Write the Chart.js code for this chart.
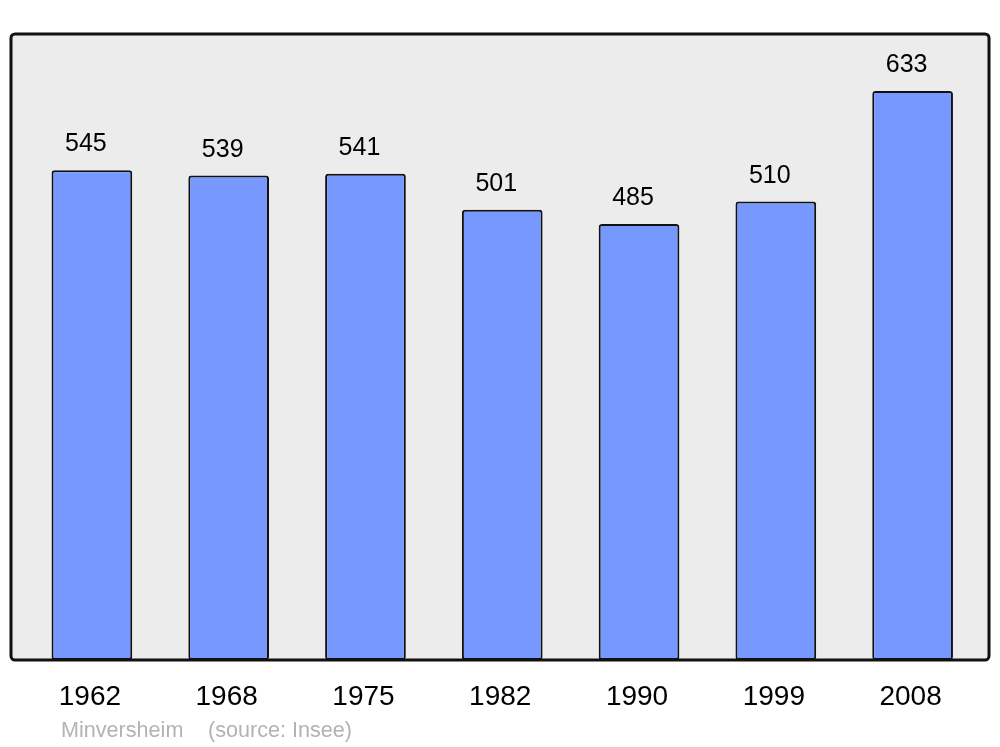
<!DOCTYPE html>
<html>
<head>
<meta charset="utf-8">
<script src="https://cdn.jsdelivr.net/npm/chart.js@4"></script>
<style>
  html, body { margin: 0; padding: 0; background: #fff; }
  canvas { display: block; }
</style>
</head>
<body>
<canvas id="chart" width="1000" height="747"></canvas>
<script>
const years = ['1962', '1968', '1975', '1982', '1990', '1999', '2008'];
const population = [545, 539, 541, 501, 485, 510, 633];
const footerName = 'Minversheim';
const footerSource = '(source: Insee)';

// panel behind the bars, a bit wider than the chart area
const panelPlugin = {
  id: 'panel',
  beforeDraw(chart) {
    const { ctx, chartArea } = chart;
    const x0 = chartArea.left - 12.5, x1 = chartArea.right + 8;
    const y0 = chartArea.top, y1 = chartArea.bottom;
    ctx.save();
    ctx.beginPath();
    ctx.roundRect(x0, y0, x1 - x0, y1 - y0, 4);
    ctx.fillStyle = '#ececec';
    ctx.fill();
    ctx.restore();
  },
  afterDatasetsDraw(chart) {
    const { ctx, chartArea } = chart;
    const x0 = chartArea.left - 12.5, x1 = chartArea.right + 8;
    const y0 = chartArea.top, y1 = chartArea.bottom;
    ctx.save();
    ctx.beginPath();
    ctx.roundRect(x0, y0, x1 - x0, y1 - y0, 4);
    ctx.lineWidth = 3;
    ctx.strokeStyle = '#111';
    ctx.stroke();
    ctx.restore();
  }
};

const labelPlugin = {
  id: 'labels',
  afterDraw(chart) {
    const { ctx } = chart;
    const meta = chart.getDatasetMeta(0);
    const xScale = chart.scales.x;
    ctx.save();
    ctx.textAlign = 'center';
    ctx.textBaseline = 'alphabetic';
    ctx.fillStyle = '#000';
    ctx.font = '25px "Liberation Sans", Arial, sans-serif';
    meta.data.forEach((bar, i) => {
      ctx.fillText(String(population[i]), bar.x - 6, bar.y - 19);
    });
    ctx.font = '28px "Liberation Sans", Arial, sans-serif';
    years.forEach((y, i) => {
      ctx.fillText(y, xScale.getPixelForValue(i) - 2, chart.chartArea.bottom + 45);
    });
    ctx.textAlign = 'left';
    ctx.fillStyle = '#b3b3b3';
    ctx.font = '21.6px "Liberation Sans", Arial, sans-serif';
    ctx.fillText(footerName, 61, 737);
    ctx.fillText(footerSource, 208, 737);
    ctx.restore();
  }
};

new Chart(document.getElementById('chart'), {
  type: 'bar',
  data: {
    labels: years,
    datasets: [{
      data: population,
      backgroundColor: '#7799ff',
      borderColor: '#111',
      borderWidth: 2,
      borderRadius: 3,
      borderSkipped: false,
      categoryPercentage: 1,
      barPercentage: 0.59
    }]
  },
  options: {
    responsive: false,
    animation: false,
    layout: {
      padding: { left: 23.5, right: 19, top: 34, bottom: 87 }
    },
    plugins: {
      legend: { display: false },
      tooltip: { enabled: false }
    },
    scales: {
      x: { display: false },
      y: { display: false, min: 0, max: 696.5 }
    }
  },
  plugins: [panelPlugin, labelPlugin]
});
</script>
</body>
</html>
